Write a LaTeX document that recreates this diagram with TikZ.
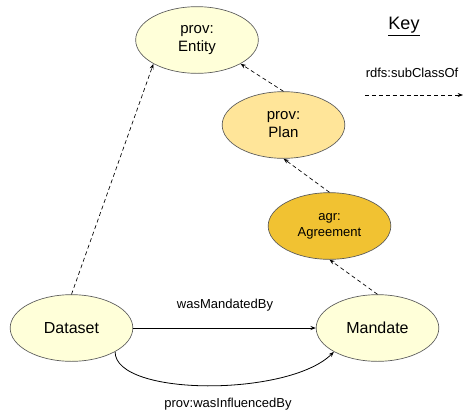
\documentclass[tikz,border=0pt]{standalone}
\usepackage{fontspec}
\setmainfont{Liberation Sans}
\usetikzlibrary{shapes.geometric,arrows.meta}

\definecolor{paleyellow}{HTML}{FFFFD9}
\definecolor{planyellow}{HTML}{FFE599}
\definecolor{agryellow}{HTML}{F1C232}

\begin{document}
\begin{tikzpicture}[x=0.75pt,y=-0.75pt,
    cls/.style={ellipse,draw=gray!70!black,line width=0.5pt,minimum width=92pt,minimum height=50pt,
                inner sep=0pt,align=center,font=\fontsize{11.25}{13.5}\selectfont},
    sub/.style={dashed,dash pattern=on 3pt off 2.2pt,line width=0.5pt,-{Stealth[length=4pt,width=3pt]}},
    rel/.style={line width=0.6pt,-{Stealth[length=4pt,width=3pt]}},
    lbl/.style={font=\fontsize{9.75}{11}\selectfont}]
       \useasboundingbox (0,0) rectangle (469,419);

       \node(E)[cls,fill=paleyellow] at (197,40) {prov:\\Entity};
       \node(P)[cls,fill=planyellow] at (283.5,125) {prov:\\Plan};
       \node(AG)[cls,fill=agryellow,font=\fontsize{9.75}{12}\selectfont] at (329.5,226) {agr:\\Agreement};
       \node(D)[cls,fill=paleyellow,font=\fontsize{12}{14}\selectfont] at (71.5,328) {Dataset};
       \node(M)[cls,fill=paleyellow,font=\fontsize{12}{14}\selectfont] at (377.5,328) {Mandate};

       \draw[sub] (D.north) -- (E.south west);
       \draw[sub] (P.north) -- (E.south east);
       \draw[sub] (AG.north) -- (P.south);
       \draw[sub] (M.north) -- (AG.south);

       \draw[rel] (D.east) -- (M.west);
       \node(NM)[lbl] at (225,305) {wasMandatedBy};

       \draw[rel] (D.south east) .. controls +(0,45) and +(-45,45) .. (M.south west);
       \node(NI)[lbl] at (228,404) {prov:wasInfluencedBy};

       % key
       \node(K)[font=\fontsize{13.5}{15}\selectfont] at (404,27) {\underline{Key}};
       \node(NK)[lbl] at (412,73) {rdfs:subClassOf};
       \coordinate(K1) at (365,95);
       \coordinate(K2) at (463,95);
       \draw[sub] (K1) -- (K2);
     \end{tikzpicture}
\end{document}
